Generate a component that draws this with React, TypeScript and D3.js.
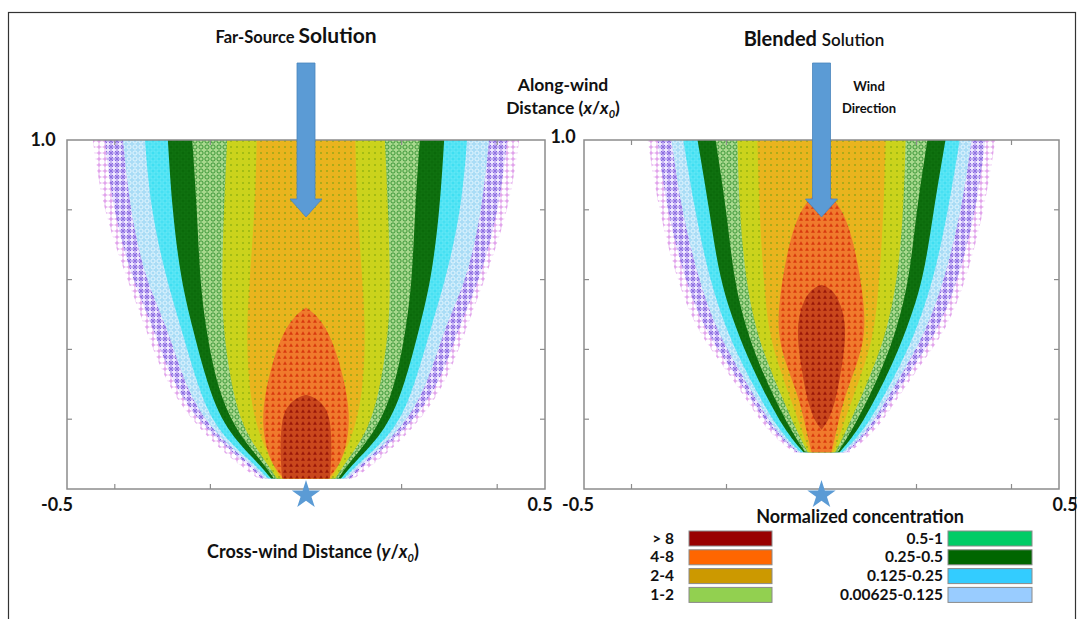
import React from "react";
import * as d3 from "d3";

// tick values shared by both panels
const xTicks = [-0.4, -0.2, 0, 0.2, 0.4];
const yTicks = [0.2, 0.4, 0.6, 0.8];

// Far-Source panel: half-width (y/x0) of each band at each along-wind level (x/x0)
const farLevels = [0.03, 0.075, 0.17, 0.3, 0.465, 0.6, 0.8, 1.0];
const farPlus = [0.1, 0.146, 0.224, 0.293, 0.337, 0.374, 0.425, 0.446];
const farCross = [0.092, 0.126, 0.211, 0.28, 0.32, 0.364, 0.404, 0.421];
const farPaleBlue = [0.086, 0.117, 0.201, 0.255, 0.29, 0.337, 0.368, 0.383];
const farCyan = [0.079, 0.111, 0.19, 0.228, 0.262, 0.292, 0.325, 0.337];
const farDarkGreen = [0.073, 0.1, 0.169, 0.207, 0.238, 0.262, 0.28, 0.289];
const farGreen = [0.067, 0.09, 0.149, 0.188, 0.21, 0.222, 0.228, 0.238];
const farYellow = [0.061, 0.082, 0.132, 0.157, 0.174, 0.176, 0.172, 0.165];
const farGold = [0.054, 0.071, 0.103, 0.121, 0.124, 0.118, 0.107, 0.103];
const farOrangeLevels = [0.03, 0.075, 0.17, 0.26, 0.36, 0.45, 0.5, 0.52];
const farOrange = [0.046, 0.075, 0.092, 0.088, 0.071, 0.048, 0.021, 0];
const farRedLevels = [0.03, 0.1, 0.2, 0.24, 0.26, 0.27];
const farRed = [0.05, 0.054, 0.052, 0.038, 0.021, 0];

// Blended panel
const blendLevels = [0.105, 0.17, 0.265, 0.36, 0.456, 0.6, 0.8, 1.0];
const blendPlus = [0.059, 0.118, 0.162, 0.211, 0.263, 0.305, 0.343, 0.366];
const blendCross = [0.053, 0.107, 0.152, 0.198, 0.246, 0.288, 0.326, 0.345];
const blendPaleBlue = [0.048, 0.099, 0.141, 0.182, 0.221, 0.259, 0.295, 0.316];
const blendCyan = [0.044, 0.091, 0.131, 0.168, 0.2, 0.236, 0.267, 0.291];
const blendDarkGreen = [0.038, 0.078, 0.116, 0.15, 0.179, 0.215, 0.236, 0.261];
const blendGreen = [0.034, 0.065, 0.101, 0.132, 0.158, 0.185, 0.2, 0.223];
const blendYellow = [0.029, 0.053, 0.084, 0.113, 0.138, 0.16, 0.173, 0.177];
const blendGold = [0.025, 0.042, 0.067, 0.092, 0.112, 0.122, 0.131, 0.135];
const blendOrangeLevels = [0.105, 0.17, 0.265, 0.36, 0.456, 0.6, 0.8, 0.86];
const blendOrange = [0.021, 0.032, 0.048, 0.076, 0.095, 0.084, 0.053, 0];
const blendRedLevels = [0.17, 0.2, 0.265, 0.36, 0.456, 0.53, 0.575, 0.585];
const blendRed = [0, 0.017, 0.032, 0.044, 0.053, 0.042, 0.021, 0];

// legend
const legendLeftLabels = ["> 8", "4-8", "2-4", "1-2"];
const legendLeftColors = ["#990000", "#ff6600", "#cc9900", "#92d050"];
const legendRightLabels = ["0.5-1", "0.25-0.5", "0.125-0.25", "0.00625-0.125"];
const legendRightColors = ["#00cc66", "#006600", "#33ccff", "#99ccff"];

// marker styles for the plotted grid (outer to inner)
const bandStyles = [
  { id: "plus", bg: "#ffffff", mark: "plus", color: "#d98ae6" },
  { id: "cross", bg: "#eee8ff", mark: "cross", color: "#7650dc" },
  { id: "pale", bg: "#a9dcf6", mark: "circle", color: "#eaf8ff" },
  { id: "cyan", bg: "#3fdff2", mark: "square", color: "#7ceefa" },
  { id: "dgreen", bg: "#0a690a", mark: "square", color: "#137a13" },
  { id: "green", bg: "#a9d98e", mark: "circle", color: "#2e8f2e" },
  { id: "yellow", bg: "#cbd31c", mark: "dot", color: "#7aa50a" },
  { id: "gold", bg: "#e9b41e", mark: "dot", color: "#6f9f12" },
  { id: "orange", bg: "#f07a2c", mark: "tri", color: "#d9380e" },
  { id: "red", bg: "#c9471c", mark: "tri", color: "#9a1608" },
];

const FONT = "Lato, 'Open Sans', sans-serif";
const BLUE = "#5b9bd5";

type Band = { id: string; levels: number[]; widths: number[] };

const farBands: Band[] = [
  { id: "plus", levels: farLevels, widths: farPlus },
  { id: "cross", levels: farLevels, widths: farCross },
  { id: "pale", levels: farLevels, widths: farPaleBlue },
  { id: "cyan", levels: farLevels, widths: farCyan },
  { id: "dgreen", levels: farLevels, widths: farDarkGreen },
  { id: "green", levels: farLevels, widths: farGreen },
  { id: "yellow", levels: farLevels, widths: farYellow },
  { id: "gold", levels: farLevels, widths: farGold },
  { id: "orange", levels: farOrangeLevels, widths: farOrange },
  { id: "red", levels: farRedLevels, widths: farRed },
];

const blendBands: Band[] = [
  { id: "plus", levels: blendLevels, widths: blendPlus },
  { id: "cross", levels: blendLevels, widths: blendCross },
  { id: "pale", levels: blendLevels, widths: blendPaleBlue },
  { id: "cyan", levels: blendLevels, widths: blendCyan },
  { id: "dgreen", levels: blendLevels, widths: blendDarkGreen },
  { id: "green", levels: blendLevels, widths: blendGreen },
  { id: "yellow", levels: blendLevels, widths: blendYellow },
  { id: "gold", levels: blendLevels, widths: blendGold },
  { id: "orange", levels: blendOrangeLevels, widths: blendOrange },
  { id: "red", levels: blendRedLevels, widths: blendRed },
];

const Marker = ({ mark, color }: { mark: string; color: string }) => {
  if (mark === "plus")
    return <path d="M0.6,3H5.4M3,0.6V5.4" stroke={color} strokeWidth={1.1} />;
  if (mark === "cross")
    return (
      <g stroke={color} strokeWidth={0.8} fill="none">
        <path d="M1.2,1.2L4.8,4.8M4.8,1.2L1.2,4.8" />
        <circle cx={3} cy={3} r={2.1} />
      </g>
    );
  if (mark === "circle")
    return <circle cx={3} cy={3} r={2.1} fill="none" stroke={color} strokeWidth={0.9} />;
  if (mark === "square")
    return <rect x={1} y={1} width={4} height={4} fill="none" stroke={color} strokeWidth={0.7} />;
  if (mark === "tri") return <path d="M3,1.2L5,4.8H1Z" fill={color} />;
  return <rect x={2.3} y={2.3} width={1.4} height={1.4} fill={color} />;
};

const Panel = ({
  left,
  right,
  top,
  bottom,
  bands,
}: {
  left: number;
  right: number;
  top: number;
  bottom: number;
  bands: Band[];
}) => {
  const x = d3.scaleLinear().domain([-0.5, 0.5]).range([left, right]);
  const y = d3.scaleLinear().domain([0, 1]).range([bottom, top]);
  const area = d3
    .area<[number, number]>()
    .y((d) => y(d[0]))
    .x0((d) => x(-d[1]))
    .x1((d) => x(d[1]))
    .curve(d3.curveBasis);
  const star = d3.symbol().type(d3.symbolStar).size(250)();
  const cx = x(0);
  const arrow = `M${cx - 9},63H${cx + 9}V199H${cx + 16}L${cx},217L${cx - 16},199H${cx - 9}Z`;
  const axis = "#8c8c8c";
  return (
    <g>
      {bands.map((b) => (
        <path
          key={b.id}
          d={area(b.levels.map((l, i) => [l, b.widths[i]] as [number, number])) || ""}
          fill={`url(#pat-${b.id})`}
        />
      ))}
      <rect
        x={left}
        y={top}
        width={right - left}
        height={bottom - top}
        fill="none"
        stroke={axis}
        strokeWidth={1.5}
      />
      {xTicks.map((t) => (
        <g key={"x" + t} stroke={axis} strokeWidth={1.2}>
          <line x1={x(t)} x2={x(t)} y1={bottom} y2={bottom - 5} />
          <line x1={x(t)} x2={x(t)} y1={top} y2={top + 5} />
        </g>
      ))}
      {yTicks.map((t) => (
        <g key={"y" + t} stroke={axis} strokeWidth={1.2}>
          <line x1={left} x2={left + 5} y1={y(t)} y2={y(t)} />
          <line x1={right} x2={right - 5} y1={y(t)} y2={y(t)} />
        </g>
      ))}
      <path d={arrow} fill={BLUE} stroke="#4a85bd" strokeWidth={0.8} />
      <path d={star} transform={`translate(${cx},${bottom + 6})`} fill={BLUE} />
    </g>
  );
};

export default function App() {
  const leftX = [67, 545];
  const rightX = [584, 1059];
  const top = 140;
  const bottom = 489;
  return (
    <svg
      width={1081}
      height={619}
      style={{ position: "absolute", left: 0, top: 0, background: "#fff" }}
      fontFamily={FONT}
    >
      <defs>
        {bandStyles.map((s) => (
          <pattern
            key={s.id}
            id={`pat-${s.id}`}
            patternUnits="userSpaceOnUse"
            width={6}
            height={6}
          >
            <rect width={6} height={6} fill={s.bg} />
            <Marker mark={s.mark} color={s.color} />
          </pattern>
        ))}
      </defs>
      <rect x={8.5} y={12.5} width={1067} height={640} fill="none" stroke="#333" strokeWidth={1.2} />

      <Panel left={leftX[0]} right={leftX[1]} top={top} bottom={bottom} bands={farBands} />
      <Panel left={rightX[0]} right={rightX[1]} top={top} bottom={bottom} bands={blendBands} />

      {/* titles */}
      <text x={296} y={43} textAnchor="middle" fontWeight={700} fill="#111">
        <tspan fontSize={16.5}>Far-Source </tspan>
        <tspan fontSize={21}>Solution</tspan>
      </text>
      <text x={814} y={46} textAnchor="middle" fontWeight={700} fill="#111">
        <tspan fontSize={20}>Blended </tspan>
        <tspan fontSize={17} fontWeight={600}>Solution</tspan>
      </text>
      <text x={563} y={91} textAnchor="middle" fontWeight={700} fontSize={17.5} fill="#111">
        Along-wind
      </text>
      <text x={563} y={114} textAnchor="middle" fontWeight={700} fontSize={17.5} fill="#111">
        Distance (<tspan fontStyle="italic">x</tspan>/<tspan fontStyle="italic">x</tspan>
        <tspan fontStyle="italic" fontSize={11} dy={4}>0</tspan>
        <tspan dy={-4}>)</tspan>
      </text>
      <text x={869} y={91} textAnchor="middle" fontWeight={700} fontSize={13} fill="#111">
        Wind
      </text>
      <text x={869} y={113} textAnchor="middle" fontWeight={700} fontSize={13} fill="#111">
        Direction
      </text>

      {/* axis numbers */}
      <g fontWeight={700} fontSize={18} fill="#111" textAnchor="middle">
        <text x={43} y={146}>1.0</text>
        <text x={563} y={143}>1.0</text>
        <text x={57} y={511}>-0.5</text>
        <text x={540} y={511}>0.5</text>
        <text x={578} y={511}>-0.5</text>
        <text x={1065} y={511}>0.5</text>
      </g>
      <text x={313} y={558} textAnchor="middle" fontWeight={700} fontSize={18} fill="#111">
        Cross-wind Distance (<tspan fontStyle="italic">y</tspan>/<tspan fontStyle="italic">x</tspan>
        <tspan fontStyle="italic" fontSize={11} dy={4}>0</tspan>
        <tspan dy={-4}>)</tspan>
      </text>

      {/* legend */}
      <text x={860} y={523} textAnchor="middle" fontWeight={700} fontSize={18} fill="#111">
        Normalized concentration
      </text>
      {legendLeftLabels.map((lab, i) => (
        <g key={lab}>
          <text x={674} y={543.5 + i * 18.8} textAnchor="end" fontWeight={700} fontSize={15.5} fill="#111">
            {lab}
          </text>
          <rect
            x={689}
            y={531 + i * 18.8}
            width={83}
            height={15}
            fill={legendLeftColors[i]}
            stroke="#8a8a8a"
            strokeWidth={1}
          />
        </g>
      ))}
      {legendRightLabels.map((lab, i) => (
        <g key={lab}>
          <text x={943} y={543.5 + i * 18.8} textAnchor="end" fontWeight={700} fontSize={15.5} fill="#111">
            {lab}
          </text>
          <rect
            x={948}
            y={531 + i * 18.8}
            width={84}
            height={15}
            fill={legendRightColors[i]}
            stroke="#8a8a8a"
            strokeWidth={1}
          />
        </g>
      ))}
    </svg>
  );
}
